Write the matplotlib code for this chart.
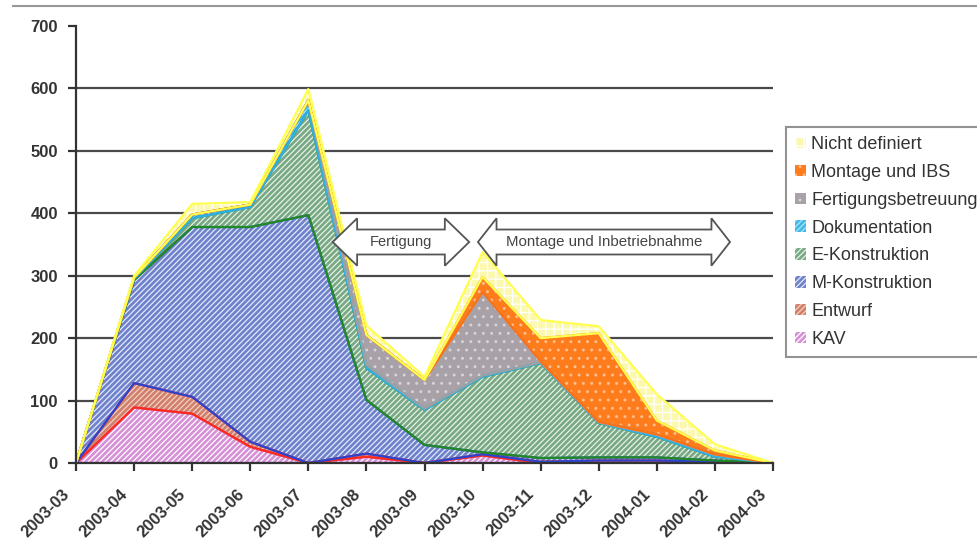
import numpy as np
import matplotlib.pyplot as plt
from matplotlib.patches import Polygon, Patch
from matplotlib.lines import Line2D
from matplotlib.transforms import ScaledTranslation

plt.rcParams['font.family'] = ['Liberation Sans', 'DejaVu Sans']
plt.rcParams['hatch.linewidth'] = 0.9

months = ['2003-03', '2003-04', '2003-05', '2003-06', '2003-07', '2003-08', '2003-09',
          '2003-10', '2003-11', '2003-12', '2004-01', '2004-02', '2004-03']

# Werte je Kategorie (gestapelt von unten nach oben)
kav = [0, 89, 79, 26, 0, 10, 0, 12, 0, 0, 0, 0, 0]
entwurf = [0, 39, 27, 8, 0, 5, 0, 2, 2, 4, 4, 2, 0]
m_konstruktion = [0, 165, 272, 344, 397, 86, 29, 3, 6, 5, 5, 2, 0]
e_konstruktion = [0, 2, 14, 32, 168, 51, 56, 121, 152, 55, 33, 6, 0]
dokumentation = [0, 2, 6, 4, 16, 5, 2, 2, 1, 1, 3, 3, 0]
fertigungsbetreuung = [0, 0, 0, 0, 0, 48, 46, 134, 2, 1, 1, 1, 0]
montage_ibs = [0, 0, 0, 0, 0, 0, 0, 24, 37, 142, 22, 6, 0]
nicht_definiert = [0, 3, 17, 4, 18, 15, 5, 40, 29, 11, 42, 10, 0]

series = [
    ('KAV', kav, '#d690d6', 'white', '//////', '#c050c0'),
    ('Entwurf', entwurf, '#d0806a', '#f4d0c4', '//////', '#ff2a1a'),
    ('M-Konstruktion', m_konstruktion, '#6e82cc', '#e4e8f8', '//////', '#2a44d0'),
    ('E-Konstruktion', e_konstruktion, '#78a884', '#e6f2e6', '//////', '#228a22'),
    ('Dokumentation', dokumentation, '#40b8e8', '#b0e4f8', '//////', '#30b0e8'),
    ('Fertigungsbetreuung', fertigungsbetreuung, '#a8a2a8', '#d8d4d8', '..', '#a0a0a0'),
    ('Montage und IBS', montage_ibs, '#ff7c1c', '#ffc090', '..', '#ff7010'),
    ('Nicht definiert', nicht_definiert, '#fbf8b0', 'white', '++', '#ffff50'),
]

fig = plt.figure(figsize=(9.77, 5.52), dpi=100)
ax = fig.add_axes([0.0778, 0.1612, 0.7134, 0.7917])

x = np.arange(len(months))
base = np.zeros(len(months))
handles = []
for name, vals, fc, hc, hatch, lc in series:
    top = base + np.array(vals, dtype=float)
    ax.fill_between(x, base, top, facecolor=fc, edgecolor=hc, hatch=hatch,
                    linewidth=0, zorder=2)
    ax.plot(x, base, color=lc, lw=1.6, zorder=3, solid_joinstyle='round')
    ax.plot(x, top, color=lc, lw=1.6, zorder=3, solid_joinstyle='round')
    handles.append(Patch(facecolor=fc, edgecolor=hc, hatch=hatch, linewidth=0, label=name))
    base = top

ax.set_xlim(0, len(months) - 1)
ax.set_ylim(0, 700)
ax.set_yticks(range(0, 701, 100))
ax.set_xticks(x)
ax.set_xticklabels(months, rotation=45, ha='right', rotation_mode='anchor')

ax.yaxis.grid(True, color='#4a4a4a', lw=1.6)
ax.set_axisbelow(True)
ax.get_ygridlines()[-1].set_visible(False)
ax.get_ygridlines()[0].set_visible(False)

for s in ['top', 'right']:
    ax.spines[s].set_visible(False)
for s in ['left', 'bottom']:
    ax.spines[s].set_color('#333333')
    ax.spines[s].set_linewidth(1.6)
    ax.spines[s].set_zorder(4)
ax.tick_params(axis='both', direction='out', length=6, width=1.6, color='#333333',
               labelsize=12, labelcolor='#333333')
ax.tick_params(axis='y', pad=7)
for lbl in ax.get_xticklabels() + ax.get_yticklabels():
    lbl.set_fontweight('bold')
shift = ScaledTranslation(-0.14, -0.1, fig.dpi_scale_trans)
for lbl in ax.get_xticklabels():
    lbl.set_transform(lbl.get_transform() + shift)


def double_arrow(x0, x1, yc, shaft, head, hl):
    pts = [(x0, yc), (x0 + hl, yc + head), (x0 + hl, yc + shaft), (x1 - hl, yc + shaft),
           (x1 - hl, yc + head), (x1, yc), (x1 - hl, yc - head), (x1 - hl, yc - shaft),
           (x0 + hl, yc - shaft), (x0 + hl, yc - head)]
    return Polygon(pts, closed=True, facecolor='white', edgecolor='#555555', lw=1.3, zorder=5)


ax.add_patch(double_arrow(4.42, 6.77, 354, 20, 38, 0.42))
ax.text(5.6, 354, 'Fertigung', ha='center', va='center', fontsize=10.5, color='#444444', zorder=6)
ax.add_patch(double_arrow(6.92, 11.26, 354, 20, 38, 0.32))
ax.text(9.09, 354, 'Montage und Inbetriebnahme', ha='center', va='center', fontsize=10.8,
        color='#444444', zorder=6)

leg = fig.legend(handles=handles[::-1], loc='upper left',
                 bbox_to_anchor=(786 / 977, 1 - 127 / 552), fontsize=13,
                 frameon=True, fancybox=False, handlelength=0.6, handleheight=0.6,
                 handletextpad=0.3, labelspacing=0.6, borderpad=0.5, borderaxespad=0)
leg.get_frame().set_edgecolor('#777777')
leg.get_frame().set_linewidth(1.5)
for t in leg.get_texts():
    t.set_color('#333333')

fig.add_artist(Line2D([13 / 977, 1], [1 - 6 / 552, 1 - 6 / 552], color='#999999', lw=1.5))

fig.savefig('out.png', dpi=100)
